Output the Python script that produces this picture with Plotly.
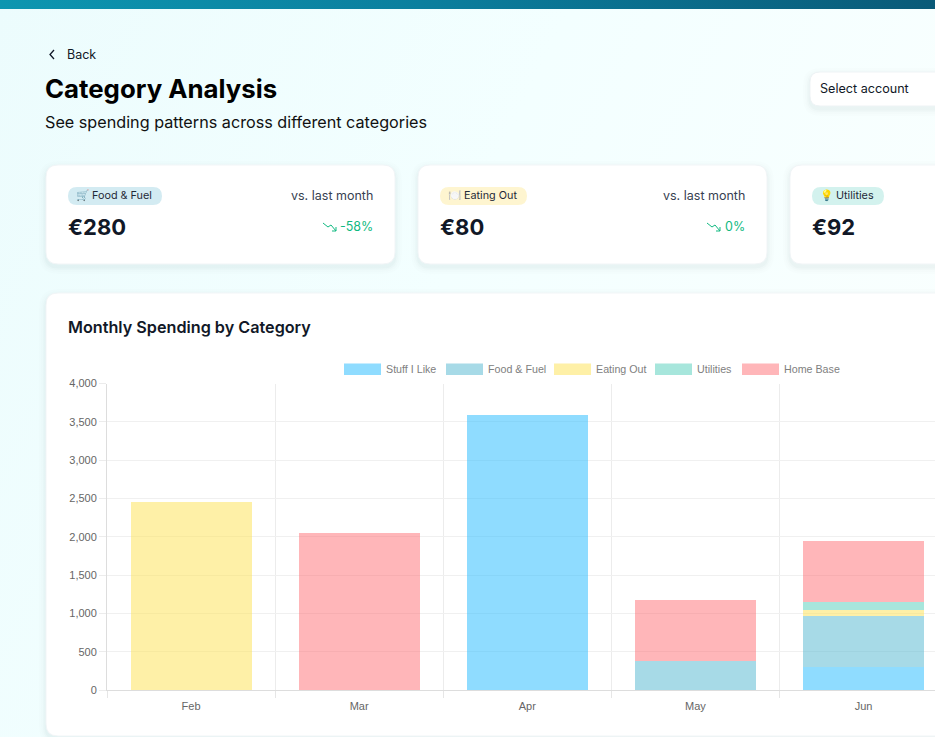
import plotly.graph_objects as go

W = 935
H = 737

months = ['Feb', 'Mar', 'Apr', 'May', 'Jun']
stuff_i_like = [None, None, 3590, None, 300]
food_fuel = [None, None, None, 380, 670]
eating_out = [2450, None, None, None, 80]
utilities = [None, None, None, None, 100]
home_base = [None, 2050, None, 800, 800]

series_names = ['Stuff I Like', 'Food & Fuel', 'Eating Out', 'Utilities', 'Home Base']
series_values = [stuff_i_like, food_fuel, eating_out, utilities, home_base]
series_fill = ['rgba(32,186,255,0.5)', 'rgba(80,182,208,0.5)', 'rgba(253,226,80,0.5)',
               'rgba(80,205,185,0.5)', 'rgba(255,102,108,0.48)']
y_ticks = [0, 500, 1000, 1500, 2000, 2500, 3000, 3500, 4000]

card_emoji = ['🛒', '🍽️', '💡']
card_names = ['Food & Fuel', 'Eating Out', 'Utilities']
card_amounts = ['€280', '€80', '€92']
card_changes = ['-58%', '0%', None]
card_badges = ['#d3ebf2', '#fef5d0', '#d3f2ee']

UI_FONT = 'Inter'
CHART_FONT = 'Liberation Sans'
DARK = '#111827'


def px(x):
    return x / W


def py(y):
    return 1 - y / H


def rounded(x0, y0, x1, y1, r):
    # svg path in paper units, with x/y given as screen pixels
    pts = [
        ('M', x0 + r, y0), ('L', x1 - r, y0), ('Q', x1, y0, x1, y0 + r),
        ('L', x1, y1 - r), ('Q', x1, y1, x1 - r, y1), ('L', x0 + r, y1),
        ('Q', x0, y1, x0, y1 - r), ('L', x0, y0 + r), ('Q', x0, y0, x0 + r, y0),
    ]
    out = ''
    for p in pts:
        coords = []
        for i in range(1, len(p), 2):
            coords.append(f'{px(p[i]):.5f},{py(p[i + 1]):.5f}')
        out += p[0] + ' '.join(coords) + ' '
    return out + 'Z'


def box(x0, y0, x1, y1, r, fill='#ffffff', edge='rgba(0,0,0,0)', shadow=True):
    items = []
    if shadow:
        for grow, alpha in [(7, 0.006), (5, 0.009), (3, 0.014), (1.5, 0.02)]:
            items.append(dict(type='path', xref='paper', yref='paper', layer='below',
                              path=rounded(x0 - grow, y0 - grow + 3, x1 + grow, y1 + grow + 3, r + grow),
                              fillcolor=f'rgba(15,40,60,{alpha})', line_width=0))
    items.append(dict(type='path', xref='paper', yref='paper', layer='below',
                      path=rounded(x0, y0, x1, y1, r), fillcolor=fill,
                      line=dict(color=edge, width=1)))
    return items


def stroke(points, color, width):
    d = 'M' + ' L'.join(f'{px(x):.5f},{py(y):.5f}' for x, y in points)
    return dict(type='path', xref='paper', yref='paper', path=d,
                line=dict(color=color, width=width), fillcolor='rgba(0,0,0,0)')


def label(x, y, text, size, color=DARK, anchor='left', weight=400, family=UI_FONT):
    # annotations carry about 1.5px of padding of their own
    x = x - 1.5 if anchor == 'left' else x + 0.5
    return dict(xref='paper', yref='paper', x=px(x), y=py(y), text=text, showarrow=False,
                xanchor=anchor, yanchor='middle', borderpad=0,
                font=dict(family=family, size=size, color=color, weight=weight))


fig = go.Figure()
for name, values, fill in zip(series_names, series_values, series_fill):
    fig.add_trace(go.Bar(x=months, y=values, name=name, width=0.72,
                         marker=dict(color=fill, line=dict(width=0))))

shapes = []
notes = []

# header
shapes.append(stroke([(54, 50), (50, 54.5), (54, 59)], DARK, 1.3))
notes.append(label(67, 54.5, 'Back', 12.5))
notes.append(label(45, 88.5, 'Category Analysis', 25.8, '#000000', weight=700))
notes.append(label(45, 122, 'See spending patterns across different categories', 16.2, '#111111'))
shapes += box(810, 72, 960, 106, 10, edge='#eef3f5')
notes.append(label(820.5, 88.5, 'Select account', 12.6))

# summary cards
card_lefts = [46, 418, 790]
badge_widths = [94, 87, 72]
for i, left in enumerate(card_lefts):
    right = left + 349
    shapes += box(left, 165, right, 264, 12, edge='#f1f5f7')
    shapes.append(dict(type='path', xref='paper', yref='paper',
                       path=rounded(left + 22, 187, left + 22 + badge_widths[i], 205, 9),
                       fillcolor=card_badges[i], line_width=0))
    notes.append(label(left + 30, 195.5, f'{card_emoji[i]} {card_names[i]}', 10.8, '#1f2937', weight=400))
    notes.append(label(left + 22, 226.5, card_amounts[i], 22, DARK, weight=700))
    if card_changes[i] is not None:
        notes.append(label(right - 22, 195.5, 'vs. last month', 12.5, '#374151', anchor='right'))
        notes.append(label(right - 22, 226.5, card_changes[i], 12.5, '#10b981', anchor='right'))
        tip = right - 59 if i == 0 else right - 47
        shapes.append(stroke([(tip - 13, 223), (tip - 8, 227), (tip - 5, 225), (tip, 231)], '#10b981', 1))
        shapes.append(stroke([(tip - 4, 231), (tip, 231), (tip, 227)], '#10b981', 1))

# chart card
shapes += box(46, 293, 960, 736, 12, edge='#f1f5f7')
notes.append(label(68, 327, 'Monthly Spending by Category', 16.2, DARK, weight=600))

# legend, chart.js style wide swatches
swatch_lefts = [344, 446, 554, 655, 742]
for name, fill, left in zip(series_names, series_fill, swatch_lefts):
    shapes.append(dict(type='rect', xref='paper', yref='paper', x0=px(left), x1=px(left + 37),
                       y0=py(363.5), y1=py(375), fillcolor=fill, line_width=0))
    notes.append(label(left + 42, 368.8, name, 10.7, '#808080', family=CHART_FONT))

fig.update_layout(
    width=W, height=H,
    margin=dict(l=0, r=0, t=0, b=0),
    paper_bgcolor='rgba(0,0,0,0)',
    plot_bgcolor='rgba(0,0,0,0)',
    barmode='stack',
    showlegend=False,
    shapes=shapes,
    annotations=notes,
    font=dict(family=CHART_FONT, size=11, color='#666666'),
    xaxis=dict(domain=[px(107), 1], type='category', range=[-0.5, 4.425], automargin=False,
               tickson='boundaries', ticks='outside', ticklen=7, tickcolor='#e6e6e6',
               ticklabelstandoff=6,
               showgrid=True, gridcolor='#ececec', gridwidth=1,
               showline=True, linecolor='#dddddd', linewidth=1, zeroline=False),
    yaxis=dict(domain=[py(690), py(383.5)], range=[0, 4000], tickvals=y_ticks, tickformat=',',
               automargin=False, ticks='outside', ticklen=7, tickcolor='#ececec',
               showgrid=True, gridcolor='#f0f0f0', gridwidth=1,
               showline=True, linecolor='#dddddd', linewidth=1, zeroline=False),
)

page_style = """
document.documentElement.style.overflow = 'hidden';
document.body.style.margin = '0';
document.body.style.height = '737px';
document.body.style.background =
  'linear-gradient(90deg, #0d96b0 0%, #0b7f9e 45%, #0a5a78 100%) top / 100% 9px no-repeat,' +
  'linear-gradient(115deg, #ecfcfd 0%, #f3ffff 45%, #fbfffe 100%)';
"""
fig.write_html('out.html', config={'displayModeBar': False}, post_script=page_style)
